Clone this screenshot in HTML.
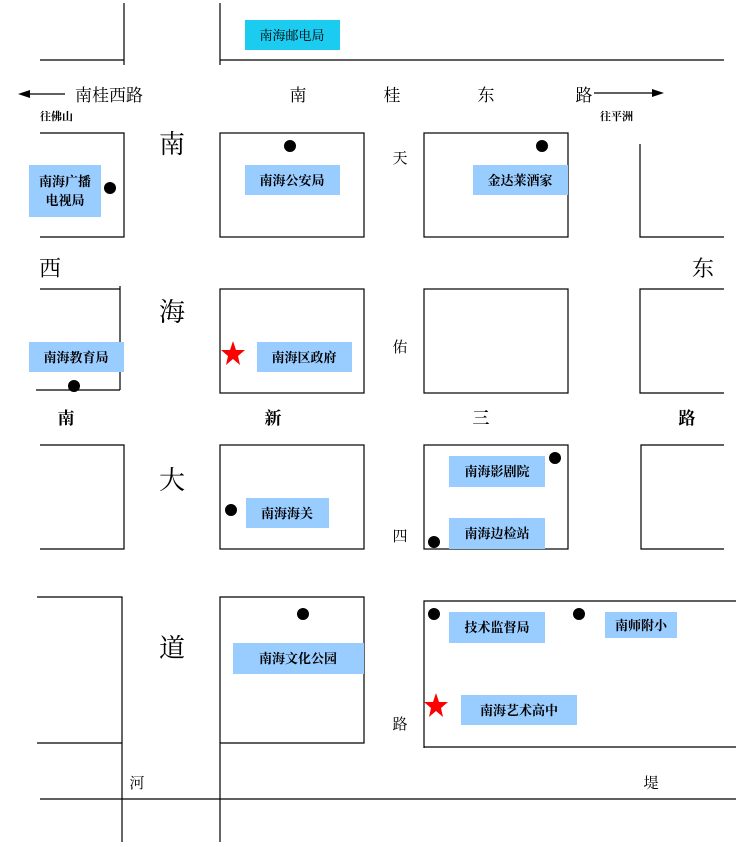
<!DOCTYPE html>
<html><head><meta charset="utf-8"><style>
html,body{margin:0;padding:0;background:#fff;}
svg text{font-family:"Liberation Serif","Noto Serif CJK SC","Noto Sans CJK SC",serif;}
</style></head><body>
<svg width="742" height="842" viewBox="0 0 742 842" xmlns="http://www.w3.org/2000/svg">
<g stroke="#000" stroke-width="1.2" fill="none">
<path d="M124 3V65M40 60H124M220 3V65M220 60H724"/>
<path d="M40 133H124V237H40"/>
<rect x="220" y="133" width="144" height="104"/>
<rect x="424" y="133" width="144" height="104"/>
<path d="M640 144V237H724"/>
<path d="M40 289H120M120 286V390M36 390H120"/>
<rect x="220" y="289" width="144" height="104"/>
<rect x="424" y="289" width="144" height="104"/>
<path d="M724 289H640V393H724"/>
<path d="M40 445H124V549H40"/>
<rect x="220" y="445" width="144" height="104"/>
<rect x="424" y="445" width="144" height="104"/>
<path d="M724 445H641V549H724"/>
<path d="M37 597H122V842M37 743H122"/>
<path d="M220 842V597H364V743H220"/>
<path d="M736 601H424V748M424 747H736"/>
<path d="M40 799H736"/>
<path d="M28 94H65M594 93H656"/>
</g>
<path d="M18 94L30 90V98Z" fill="#000"/>
<path d="M664 93L652 89V97Z" fill="#000"/>
<rect x="245" y="20" width="95" height="30" fill="#1ccbf0"/>
<g fill="#99ccff">
<rect x="29" y="165" width="72" height="52"/>
<rect x="245" y="165" width="95" height="30"/>
<rect x="473" y="165" width="95" height="30"/>
<rect x="29" y="342" width="95" height="30"/>
<rect x="257" y="342" width="95" height="30"/>
<rect x="246" y="498" width="83" height="30"/>
<rect x="449" y="456" width="96" height="31"/>
<rect x="449" y="518" width="96" height="31"/>
<rect x="233" y="643" width="131" height="31"/>
<rect x="449" y="612" width="96" height="31"/>
<rect x="605" y="612" width="72" height="26"/>
<rect x="461" y="695" width="116" height="30"/>
</g>
<g fill="#000">
<circle cx="110" cy="188" r="6"/><circle cx="290" cy="146" r="6"/><circle cx="542" cy="146" r="6"/>
<circle cx="74" cy="386" r="6"/><circle cx="231" cy="510" r="6"/><circle cx="555" cy="458" r="6"/>
<circle cx="434" cy="542" r="6"/><circle cx="303" cy="614" r="6"/><circle cx="434" cy="614" r="6"/>
<circle cx="579" cy="614" r="6"/>
</g>
<g fill="#ff0000">
<polygon points="233,341 236,350 245,350 238,356 240,365 233,359 226,365 228,356 221,350 230,350"/>
<polygon points="436,693 439,702 448,702 441,708 443,717 436,711 429,717 431,708 424,702 433,702"/>
</g>
<g font-size="13" text-anchor="middle" font-weight="bold">
<text x="292" y="40" font-weight="normal" font-family="Liberation Sans,Noto Sans CJK SC,sans-serif">南海邮电局</text>
<text x="65" y="186">南海广播</text><text x="65" y="205">电视局</text>
<text x="292" y="185">南海公安局</text>
<text x="520" y="185">金达莱酒家</text>
<text x="76" y="362">南海教育局</text>
<text x="304" y="362">南海区政府</text>
<text x="287" y="518">南海海关</text>
<text x="497" y="476">南海影剧院</text>
<text x="497" y="538">南海边检站</text>
<text x="298" y="663">南海文化公园</text>
<text x="497" y="632">技术监督局</text>
<text x="641" y="630">南师附小</text>
<text x="519" y="715">南海艺术高中</text>
</g>
<g font-size="11" font-weight="bold">
<text x="40" y="120">往佛山</text><text x="600" y="120">往平洲</text>
</g>
<g font-size="17" text-anchor="middle">
<text x="109" y="101">南桂西路</text>
<text x="298" y="101">南</text><text x="392" y="101">桂</text><text x="486" y="101">东</text><text x="584" y="101">路</text>
<text x="400" y="163" font-size="15">天</text><text x="400" y="352" font-size="15">佑</text>
<text x="400" y="541" font-size="15">四</text><text x="400" y="729" font-size="15">路</text>
<text x="137" y="788" font-size="15">河</text><text x="651" y="788" font-size="15">堤</text>
<text x="66" y="424" font-weight="bold">南</text><text x="273" y="424" font-weight="bold">新</text>
<text x="481" y="424" font-weight="bold">三</text><text x="687" y="424" font-weight="bold">路</text>
</g>
<g font-size="26" text-anchor="middle" font-family="Liberation Sans,Noto Sans CJK SC,sans-serif">
<text x="172" y="153">南</text><text x="172" y="321">海</text>
<text x="172" y="489">大</text><text x="172" y="657">道</text>
<text x="50" y="276" font-size="22">西</text><text x="703" y="276" font-size="22">东</text>
</g>
</svg>
</body></html>
